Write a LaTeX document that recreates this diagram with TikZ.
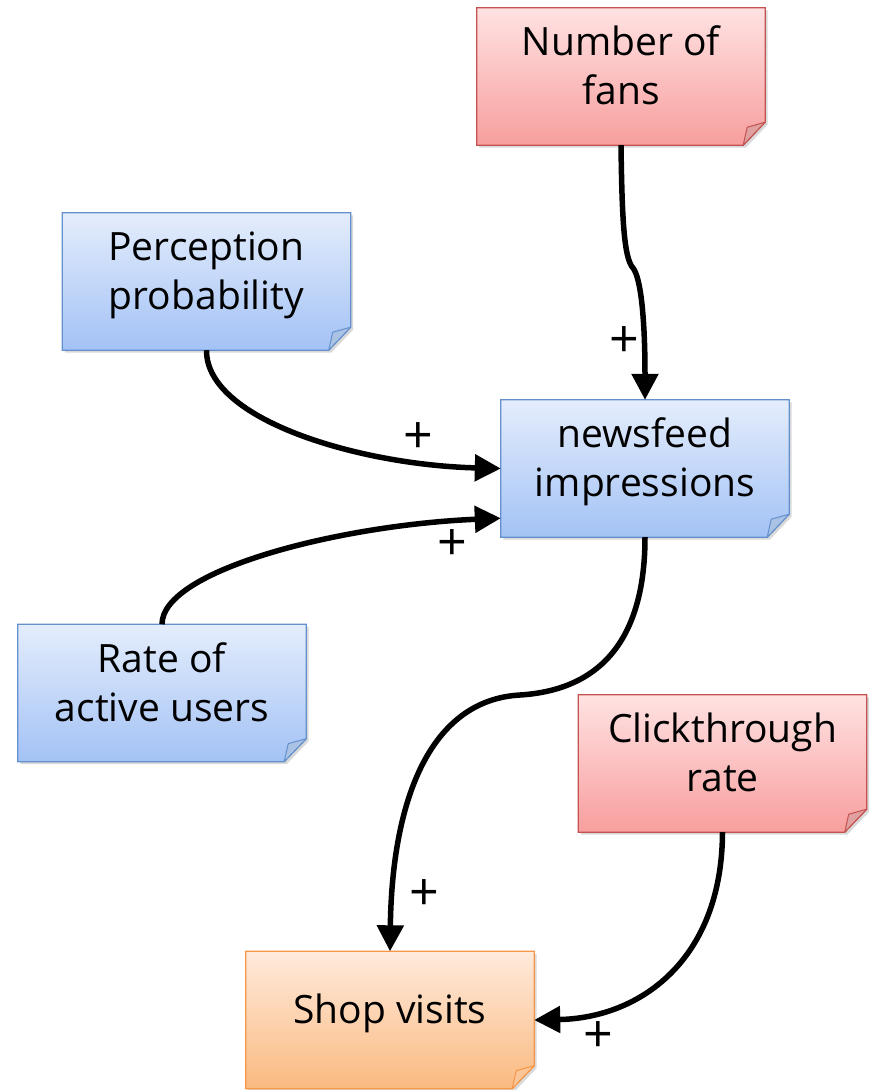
\documentclass[tikz,border=0pt]{standalone}
\usepackage{fontspec}
\setmainfont{Open Sans}
\usetikzlibrary{arrows.meta,shadows,backgrounds}

% note colours
\definecolor{blueTop}{RGB}{228,237,252}
\definecolor{blueBot}{RGB}{163,194,245}
\definecolor{blueLine}{RGB}{100,145,205}
\definecolor{redTop}{RGB}{255,226,226}
\definecolor{redBot}{RGB}{248,158,158}
\definecolor{redLine}{RGB}{196,82,80}
\definecolor{orTop}{RGB}{255,234,220}
\definecolor{orBot}{RGB}{250,186,128}
\definecolor{orLine}{RGB}{246,150,70}

\tikzset{
  note/.style={minimum width=288pt, minimum height=137pt, inner sep=0pt,
    align=center, text depth=22pt, font=\fontsize{39}{49}\selectfont},
  link/.style={line width=5.5pt, -{Triangle[length=26pt,width=26pt]}},
  sign/.style={font=\fontsize{52}{52}\selectfont, inner sep=0pt},
}

% paper note background with a folded bottom-right corner
\newcommand\notebg[4]{%
  \path[top color=#2, bottom color=#3, draw=#4, line width=1.3pt,
        drop shadow={opacity=0.3, shadow xshift=2.5pt, shadow yshift=-2.5pt}]
    (#1.north west) -- (#1.north east) -- ([yshift=23pt]#1.south east)
    -- ([xshift=-22pt]#1.south east) -- (#1.south west) -- cycle;
  \path[fill=#4!55!white, draw=#4, line width=1pt, line join=round]
    ([yshift=23pt]#1.south east) -- ([xshift=-18pt,yshift=18pt]#1.south east)
    -- ([xshift=-22pt]#1.south east) -- cycle;
}

\begin{document}
\begin{tikzpicture}[x=1pt,y=-1pt]
\useasboundingbox (0,0) rectangle (872,1090);

\node[note] (fans)  at (621,76.5)   {Number of\\fans};
\node[note] (perc)  at (206.5,281.5) {Perception\\probability};
\node[note] (news)  at (645,468.5)  {newsfeed\\impressions};
\node[note] (rate)  at (162,693)    {Rate of\\active users};
\node[note] (click) at (722.5,763.5) {Clickthrough\\rate};
\node[note] (shop)  at (390,1020)   {Shop visits};

\begin{scope}[on background layer]
  \notebg{fans}{redTop}{redBot}{redLine}
  \notebg{click}{redTop}{redBot}{redLine}
  \notebg{perc}{blueTop}{blueBot}{blueLine}
  \notebg{news}{blueTop}{blueBot}{blueLine}
  \notebg{rate}{blueTop}{blueBot}{blueLine}
  \notebg{shop}{orTop}{orBot}{orLine}
\end{scope}

% causal links
\draw[link] (fans.south) .. controls (622,220) and (624,258) .. (633,268)
  .. controls (641,278) and (645,320) .. (news.north);
\draw[link] (perc.south) .. controls (206,420) and (360,465) .. (news.west);
\draw[link] (rate.north) .. controls (162,570) and (340,525) .. ([yshift=19pt]news.south west);
\draw[link] (news.south) .. controls (645,640) and (600,690) .. (520,695)
  .. controls (430,700) and (392,800) .. (shop.north);
\draw[link] (click.south) .. controls (722,960) and (640,1018) .. (shop.east);

% polarity signs
\node[sign] (s1) at (624,342) {+};
\node[sign] (s2) at (418,438) {+};
\node[sign] (s3) at (452,545) {+};
\node[sign] (s4) at (424,895) {+};
\node[sign] (s5) at (598,1037) {+};
\end{tikzpicture}
\end{document}
